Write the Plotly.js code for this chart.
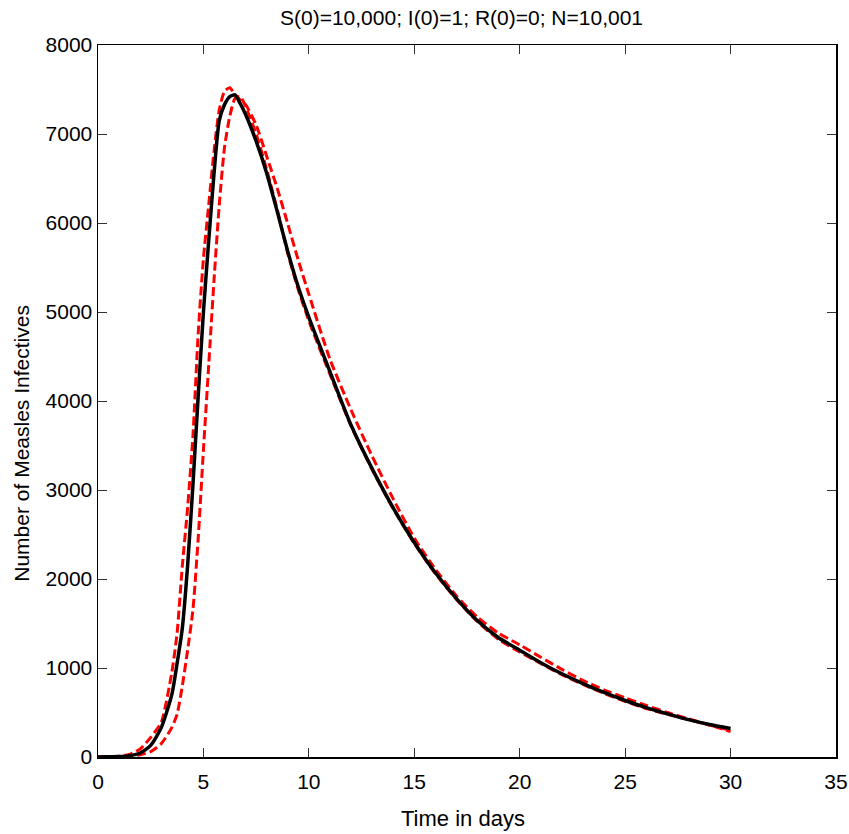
<!DOCTYPE html>
<html>
<head>
<meta charset="utf-8">
<script src="https://cdn.plot.ly/plotly-3.0.1.min.js"></script>
<style>html,body{margin:0;padding:0;background:#fff;}#chart{width:849px;height:834px;}</style>
</head>
<body>
<div id="chart"></div>
<script>
var timeDays = [0, 0.5, 1, 1.5, 2, 2.5, 3, 3.5, 3.75, 4, 4.25, 4.5, 4.75, 5, 5.25, 5.5, 5.75, 6, 6.25, 6.5, 6.75, 7, 7.5, 8, 8.5, 9, 9.5, 10, 11, 12, 13, 14, 15, 16, 17, 18, 19, 20, 21, 22, 23, 24, 25, 26, 27, 28, 29, 30];

var meanInfectives = [1, 2, 5, 15, 45, 130, 330, 700, 1050, 1450, 2150, 3050, 4050, 5000, 5800, 6550, 7150, 7330, 7420, 7440, 7340, 7220, 6920, 6560, 6130, 5680, 5280, 4940, 4330, 3730, 3240, 2800, 2410, 2070, 1780, 1530, 1340, 1200, 1060, 935, 825, 725, 635, 555, 485, 420, 365, 320];

var earlyInfectives = [1, 3, 8, 30, 90, 220, 390, 950, 1390, 2150, 2800, 3600, 4750, 5600, 6200, 6800, 7270, 7480, 7520, 7440, 7380, 7330, 7100, 6750, 6390, 5990, 5580, 5200, 4470, 3900, 3380, 2900, 2460, 2110, 1810, 1570, 1390, 1260, 1120, 985, 860, 755, 665, 580, 500, 430, 360, 285];

var lateInfectives = [1, 1, 2, 6, 25, 60, 150, 330, 480, 800, 1200, 1650, 2450, 3450, 4400, 5350, 6200, 6850, 7200, 7400, 7420, 7310, 7000, 6600, 6150, 5660, 5250, 4900, 4300, 3720, 3230, 2790, 2400, 2060, 1770, 1520, 1320, 1180, 1050, 925, 815, 715, 625, 545, 480, 420, 360, 300];

var xTicks = [0, 5, 10, 15, 20, 25, 30, 35];
var yTicks = [0, 1000, 2000, 3000, 4000, 5000, 6000, 7000, 8000];

var FONT = 'Liberation Sans, Arial, Helvetica, sans-serif';

var redLine = {color: '#ff0000', width: 3, dash: '9px,4px', shape: 'spline', smoothing: 0.6};

var traces = [
  {x: timeDays, y: earlyInfectives, type: 'scatter', mode: 'lines', line: redLine, hoverinfo: 'skip'},
  {x: timeDays, y: lateInfectives, type: 'scatter', mode: 'lines', line: redLine, hoverinfo: 'skip'},
  {x: timeDays, y: meanInfectives, type: 'scatter', mode: 'lines', line: {color: '#000000', width: 3.5, shape: 'spline', smoothing: 0.6}, hoverinfo: 'skip'}
];

var axisCommon = {
  showgrid: false, zeroline: false, showline: true, linecolor: '#000', linewidth: 1.5,
  mirror: 'ticks', ticks: 'inside', ticklen: 9, tickwidth: 1, tickcolor: '#333',
  tickfont: {family: FONT, size: 21, color: '#000'}
};

var layout = {
  width: 849, height: 834,
  margin: {l: 98, r: 13, t: 45, b: 77},
  paper_bgcolor: '#fff', plot_bgcolor: '#fff',
  showlegend: false,
  title: {text: 'S(0)=10,000; I(0)=1; R(0)=0; N=10,001', font: {family: FONT, size: 21, color: '#000'}, x: 0.5436, xanchor: 'center', y: 0.979, yanchor: 'middle'},
  xaxis: Object.assign({}, axisCommon, {
    range: [0, 35], tickvals: xTicks, ticktext: xTicks.map(String), ticklabelstandoff: 5
  }),
  yaxis: Object.assign({}, axisCommon, {
    range: [0, 8000], tickvals: yTicks, ticktext: yTicks.map(String)
  }),
  annotations: [
    {text: 'Time in days', xref: 'paper', yref: 'paper', x: 0.494, y: 0, xanchor: 'center', yanchor: 'middle', yshift: -61, showarrow: false, font: {family: FONT, size: 22, color: '#000'}},
    {text: 'Number of Measles Infectives', xref: 'paper', yref: 'paper', x: 0, y: 0.44, xanchor: 'center', yanchor: 'middle', xshift: -76, textangle: -90, showarrow: false, font: {family: FONT, size: 21, color: '#000'}}
  ]
};

Plotly.newPlot('chart', traces, layout, {staticPlot: true, displayModeBar: false});
</script>
</body>
</html>
